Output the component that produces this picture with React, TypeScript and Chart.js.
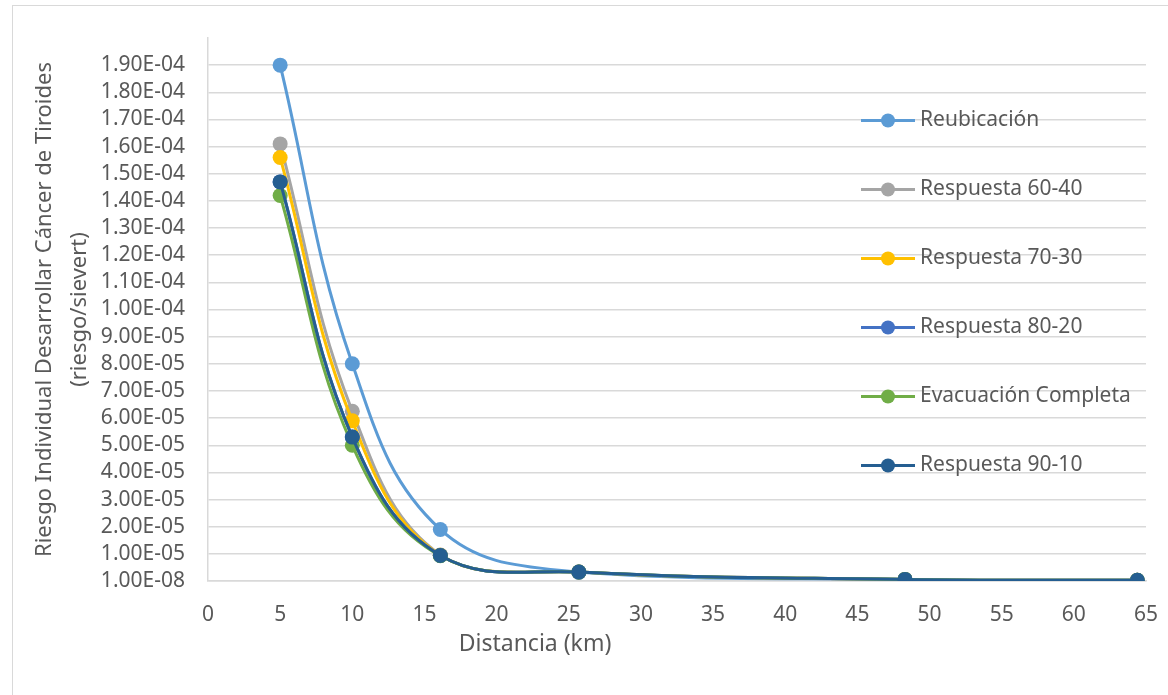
import React, { useEffect, useRef } from "react";
import { Chart, registerables } from "chart.js";

Chart.register(...registerables);

const distanceKm = [5, 10, 16.1, 25.7, 48.3, 64.4];
const seriesNames = [
  "Reubicación",
  "Respuesta 60-40",
  "Respuesta 70-30",
  "Respuesta 80-20",
  "Evacuación Completa",
  "Respuesta 90-10",
];
const reubicacion = [1.9e-4, 8.0e-5, 1.9e-5, 3.2e-6, 6e-7, 3e-7];
const respuesta6040 = [1.61e-4, 6.25e-5, 9.6e-6, 3.3e-6, 6e-7, 3e-7];
const respuesta7030 = [1.56e-4, 5.9e-5, 9.5e-6, 3.3e-6, 6e-7, 3e-7];
const respuesta8020 = [1.47e-4, 5.3e-5, 9.4e-6, 3.3e-6, 6e-7, 3e-7];
const evacuacionCompleta = [1.42e-4, 5.0e-5, 9.3e-6, 3.3e-6, 6e-7, 3e-7];
const respuesta9010 = [1.47e-4, 5.3e-5, 9.4e-6, 3.3e-6, 6e-7, 3e-7];
const seriesValues = [reubicacion, respuesta6040, respuesta7030, respuesta8020, evacuacionCompleta, respuesta9010];
const seriesColors = ["#5B9BD5", "#A5A5A5", "#FFC000", "#4472C4", "#70AD47", "#255E91"];

const yTickValues = [
  1e-8, 1e-5, 2e-5, 3e-5, 4e-5, 5e-5, 6e-5, 7e-5, 8e-5, 9e-5, 1e-4,
  1.1e-4, 1.2e-4, 1.3e-4, 1.4e-4, 1.5e-4, 1.6e-4, 1.7e-4, 1.8e-4, 1.9e-4,
];
const xTitle = "Distancia (km)";
const yTitle = ["Riesgo Individual Desarrollar Cáncer de Tiroides", "(riesgo/sievert)"];

const FONT = "'Noto Sans', sans-serif";
const TEXT = "#595959";
const GRID = "#d9d9d9";

function fmtSci(v: number): string {
  const [m, e] = v.toExponential(2).split("e");
  const n = parseInt(e, 10);
  const sign = n < 0 ? "-" : "+";
  const abs = Math.abs(n);
  return `${m}E${sign}${abs < 10 ? "0" + abs : abs}`;
}

const overlayPlugin = {
  id: "overlay",
  afterDraw(chart: any) {
    const { ctx, chartArea } = chart;
    ctx.save();
    // x-axis title
    ctx.fillStyle = TEXT;
    ctx.font = `23px ${FONT}`;
    ctx.textAlign = "center";
    ctx.textBaseline = "middle";
    ctx.fillText(xTitle, 535, 644);
    // legend
    const lx = chartArea.right - 285;
    let ly = 120.5;
    const step = 69.0;
    chart.data.datasets.forEach((ds: any) => {
      ctx.strokeStyle = ds.borderColor;
      ctx.lineWidth = 3;
      ctx.beginPath();
      ctx.moveTo(lx, ly);
      ctx.lineTo(lx + 54, ly);
      ctx.stroke();
      ctx.fillStyle = ds.borderColor;
      ctx.beginPath();
      ctx.arc(lx + 27, ly, 7, 0, Math.PI * 2);
      ctx.fill();
      ctx.fillStyle = TEXT;
      ctx.font = `21px ${FONT}`;
      ctx.textAlign = "left";
      ctx.textBaseline = "middle";
      ctx.fillText(ds.label, lx + 59, ly);
      ly += step;
    });
    ctx.restore();
  },
};

export default function App() {
  const ref = useRef<HTMLCanvasElement | null>(null);
  useEffect(() => {
    if (!ref.current) return;
    const datasets = seriesNames.map((name, i) => ({
      label: name,
      data: distanceKm.map((x, j) => ({ x, y: seriesValues[i][j] })),
      borderColor: seriesColors[i],
      backgroundColor: seriesColors[i],
      pointBackgroundColor: seriesColors[i],
      pointBorderColor: seriesColors[i],
      pointBorderWidth: 0,
      pointRadius: 7.5,
      borderWidth: 3,
      tension: 0.4,
      fill: false,
      order: seriesNames.length - i,
    }));
    const chart = new Chart(ref.current, {
      type: "line",
      data: { datasets },
      options: {
        animation: false,
        responsive: false,
        devicePixelRatio: 1,
        layout: { padding: { left: 0, top: 38, right: 22, bottom: 0 } },
        plugins: { legend: { display: false }, tooltip: { enabled: false } },
        scales: {
          x: {
            type: "linear",
            min: 0,
            max: 65,
            ticks: { stepSize: 5, color: TEXT, font: { family: FONT, size: 21 }, padding: 21, maxRotation: 0 },
            grid: { display: false, drawTicks: false },
            border: { display: true, color: GRID, width: 1.5 },
            afterFit(scale: any) {
              scale.height = 114;
              scale.paddingLeft = 0;
              scale.paddingRight = 0;
            },
          },
          y: {
            type: "linear",
            min: 1e-8,
            max: 2e-4,
            afterBuildTicks(scale: any) {
              scale.ticks = yTickValues.map((v) => ({ value: v }));
            },
            ticks: {
              color: TEXT,
              font: { family: FONT, size: 21 },
              padding: 23,
              callback: (v: any) => fmtSci(Number(v)),
            },
            grid: { color: GRID, lineWidth: 1.5, drawTicks: false },
            border: { display: true, color: GRID, width: 1.5 },
            title: {
              display: true,
              text: yTitle,
              color: TEXT,
              font: { family: FONT, size: 22, lineHeight: 1.6 },
              padding: { top: 27, bottom: 0 },
            },
            afterFit(scale: any) {
              scale.width = 208;
              scale.paddingTop = 0;
              scale.paddingBottom = 0;
            },
          },
        },
      },
      plugins: [overlayPlugin],
    });
    return () => chart.destroy();
  }, []);
  return (
    <div style={{ position: "absolute", left: 0, top: 0, width: 1168, height: 695, background: "#fff", overflow: "hidden" }}>
      <div
        style={{
          position: "absolute",
          left: 12,
          top: 5,
          width: 1156,
          height: 690,
          borderLeft: `1.5px solid ${GRID}`,
          borderTop: `1.5px solid ${GRID}`,
          boxSizing: "border-box",
        }}
      />
      <canvas ref={ref} width={1168} height={695} style={{ position: "absolute", left: 0, top: 0 }} />
    </div>
  );
}
